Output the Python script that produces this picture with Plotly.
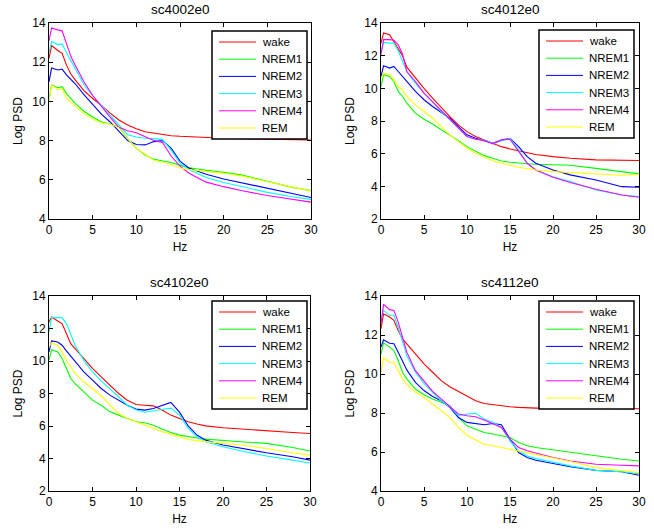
import plotly.graph_objects as go

# frequency grid (Hz) shared by all four recordings
hz = [0, 0.3, 1, 1.5, 2, 2.5, 3, 4, 5, 6, 7, 8, 9, 10, 11, 12, 13, 14, 15, 16, 17, 18, 20, 22, 25, 28, 30]

stages = ["wake", "NREM1", "NREM2", "NREM3", "NREM4", "REM"]
colors = ["#ff0000", "#00ff00", "#0000ff", "#00ffff", "#ff00ff", "#ffff00"]

# sc4002e0
sc4002_wake = [12.2, 12.85, 12.6, 12.45, 11.85, 11.4, 11.1, 10.55, 10.15, 9.8, 9.4, 9.05, 8.8, 8.6, 8.45, 8.38, 8.3, 8.25, 8.22, 8.2, 8.16, 8.13, 8.12, 8.1, 8.07, 8.05, 8.03]
sc4002_nrem1 = [10.1, 10.85, 10.7, 10.75, 10.4, 10.15, 9.9, 9.5, 9.2, 8.95, 8.85, 8.7, 8.1, 7.6, 7.27, 7.05, 6.98, 6.88, 6.75, 6.62, 6.55, 6.48, 6.38, 6.25, 5.92, 5.6, 5.45]
sc4002_nrem2 = [11.0, 11.7, 11.6, 11.65, 11.35, 11.15, 10.9, 10.35, 9.85, 9.35, 8.95, 8.5, 8.0, 7.8, 7.78, 7.95, 8.0, 7.6, 6.95, 6.6, 6.42, 6.28, 6.04, 5.85, 5.57, 5.28, 5.1]
sc4002_nrem3 = [12.5, 13.05, 12.9, 12.93, 12.5, 12.1, 11.7, 10.85, 10.3, 9.8, 9.3, 8.8, 8.3, 8.18, 8.12, 8.1, 8.05, 7.5, 6.85, 6.52, 6.3, 6.12, 5.86, 5.65, 5.36, 5.12, 5.0]
sc4002_nrem4 = [13.1, 13.75, 13.65, 13.6, 12.95, 12.3, 11.85, 11.0, 10.3, 9.73, 9.2, 8.68, 8.5, 8.4, 8.2, 8.0, 7.9, 7.2, 6.7, 6.35, 6.1, 5.88, 5.65, 5.45, 5.2, 4.98, 4.86]
sc4002_rem = [10.0, 10.85, 10.6, 10.65, 10.15, 9.95, 9.73, 9.38, 9.1, 8.9, 8.85, 8.65, 8.1, 7.6, 7.3, 7.0, 6.9, 6.78, 6.6, 6.52, 6.48, 6.44, 6.33, 6.2, 5.9, 5.6, 5.42]

# sc4012e0
sc4012_wake = [12.77, 13.39, 13.28, 12.88, 12.45, 12.0, 11.3, 10.63, 10.0, 9.4, 8.83, 8.27, 7.76, 7.35, 7.05, 6.84, 6.64, 6.43, 6.29, 6.19, 6.09, 5.95, 5.82, 5.72, 5.62, 5.58, 5.58]
sc4012_nrem1 = [10.11, 10.83, 10.73, 10.42, 9.81, 9.5, 9.09, 8.48, 8.11, 7.82, 7.46, 7.15, 6.8, 6.43, 6.13, 5.88, 5.72, 5.55, 5.47, 5.41, 5.38, 5.35, 5.33, 5.29, 5.1, 4.9, 4.76]
sc4012_nrem2 = [10.73, 11.38, 11.24, 11.34, 11.03, 10.75, 10.42, 9.81, 9.3, 8.89, 8.52, 8.17, 7.66, 7.15, 6.94, 6.8, 6.64, 6.84, 6.94, 6.43, 5.82, 5.41, 5.0, 4.7, 4.39, 3.98, 3.94]
sc4012_nrem3 = [12.16, 12.81, 12.77, 12.77, 12.3, 11.7, 11.03, 10.32, 9.71, 9.19, 8.58, 8.07, 7.56, 7.05, 6.88, 6.84, 6.64, 6.8, 6.94, 6.23, 5.41, 5.0, 4.59, 4.29, 3.78, 3.47, 3.37]
sc4012_nrem4 = [12.06, 12.98, 12.98, 12.94, 12.67, 12.1, 11.03, 10.42, 9.71, 9.19, 8.68, 8.11, 7.56, 7.05, 6.88, 6.8, 6.6, 6.84, 6.88, 6.13, 5.41, 5.0, 4.55, 4.23, 3.82, 3.47, 3.33]
sc4012_rem = [10.52, 10.93, 10.83, 10.52, 10.11, 9.9, 9.5, 8.99, 8.58, 8.17, 7.66, 7.15, 6.74, 6.33, 6.02, 5.78, 5.57, 5.41, 5.27, 5.17, 5.08, 5.0, 4.9, 4.84, 4.76, 4.68, 4.72]

# sc4102e0 (no NREM4 epochs)
sc4102_wake = [12.4, 12.71, 12.46, 12.3, 11.69, 11.07, 10.76, 10.15, 9.54, 9.02, 8.51, 8.0, 7.59, 7.32, 7.28, 7.24, 6.98, 6.67, 6.46, 6.26, 6.12, 6.01, 5.89, 5.81, 5.71, 5.6, 5.54]
sc4102_nrem1 = [10.05, 10.7, 10.56, 10.15, 9.54, 8.92, 8.61, 8.1, 7.59, 7.28, 6.87, 6.67, 6.46, 6.26, 6.2, 6.05, 5.81, 5.6, 5.44, 5.34, 5.26, 5.19, 5.13, 5.03, 4.93, 4.68, 4.46]
sc4102_nrem2 = [10.56, 11.24, 11.17, 10.97, 10.62, 10.3, 9.95, 9.33, 8.82, 8.31, 7.9, 7.59, 7.28, 7.04, 6.98, 7.08, 7.28, 7.45, 6.85, 6.0, 5.44, 5.13, 4.83, 4.62, 4.35, 4.11, 3.9]
sc4102_nrem3 = [11.79, 12.67, 12.67, 12.67, 12.3, 11.58, 10.97, 10.05, 9.33, 8.78, 8.31, 7.8, 7.28, 7.0, 6.85, 6.95, 7.02, 7.1, 6.67, 5.85, 5.34, 5.03, 4.72, 4.48, 4.15, 3.9, 3.72]
sc4102_nrem4 = []
sc4102_rem = [10.87, 11.13, 10.97, 10.56, 10.05, 9.6, 9.23, 8.72, 8.31, 7.86, 7.28, 6.77, 6.46, 6.26, 6.05, 5.85, 5.64, 5.5, 5.34, 5.17, 5.1, 5.03, 4.93, 4.83, 4.62, 4.35, 4.21]

# sc4112e0
sc4112_wake = [12.32, 13.09, 12.92, 12.75, 12.23, 11.8, 11.55, 11.03, 10.52, 10.09, 9.66, 9.35, 9.11, 8.84, 8.63, 8.49, 8.43, 8.37, 8.32, 8.29, 8.27, 8.25, 8.25, 8.24, 8.24, 8.23, 8.22]
sc4112_nrem1 = [11.03, 11.6, 11.38, 11.2, 10.69, 10.09, 9.75, 9.23, 8.94, 8.72, 8.55, 8.37, 7.77, 7.34, 7.17, 7.0, 6.92, 6.83, 6.74, 6.49, 6.32, 6.23, 6.11, 5.97, 5.8, 5.63, 5.54]
sc4112_nrem2 = [11.38, 11.75, 11.58, 11.55, 11.12, 10.69, 10.21, 9.57, 9.15, 8.85, 8.63, 8.29, 7.77, 7.52, 7.46, 7.4, 7.46, 7.4, 6.66, 5.97, 5.72, 5.58, 5.41, 5.25, 5.06, 4.99, 4.81]
sc4112_nrem3 = [12.83, 13.26, 13.01, 13.01, 12.4, 11.63, 10.95, 10.09, 9.52, 9.06, 8.63, 8.32, 7.86, 7.95, 7.98, 7.69, 7.52, 7.26, 6.57, 6.06, 5.8, 5.66, 5.46, 5.29, 5.06, 4.99, 4.89]
sc4112_nrem4 = [12.58, 13.57, 13.3, 13.26, 12.66, 11.89, 11.12, 10.17, 9.63, 9.11, 8.72, 8.32, 7.95, 7.86, 7.81, 7.64, 7.43, 7.26, 6.66, 6.23, 6.06, 5.94, 5.72, 5.54, 5.37, 5.32, 5.29]
sc4112_rem = [10.09, 10.83, 10.6, 10.6, 10.17, 9.75, 9.45, 9.06, 8.8, 8.46, 8.11, 7.77, 7.26, 6.86, 6.61, 6.4, 6.32, 6.23, 6.14, 6.06, 5.98, 5.89, 5.72, 5.51, 5.2, 5.03, 4.94]

W, H = 654, 529
FONT = "Liberation Sans, Arial, Helvetica, sans-serif"

panels = [
    # name, series, y range, x px span, y px span, legend box px (left, top)
    ("sc4002e0", [sc4002_wake, sc4002_nrem1, sc4002_nrem2, sc4002_nrem3, sc4002_nrem4, sc4002_rem], [4, 14], (49, 311), (23, 219), (212, 31)),
    ("sc4012e0", [sc4012_wake, sc4012_nrem1, sc4012_nrem2, sc4012_nrem3, sc4012_nrem4, sc4012_rem], [2, 14], (381, 639), (23, 219), (539, 30)),
    ("sc4102e0", [sc4102_wake, sc4102_nrem1, sc4102_nrem2, sc4102_nrem3, sc4102_nrem4, sc4102_rem], [2, 14], (49, 310), (296, 491), (212, 301)),
    ("sc4112e0", [sc4112_wake, sc4112_nrem1, sc4112_nrem2, sc4112_nrem3, sc4112_nrem4, sc4112_rem], [4, 14], (381, 639), (296, 491), (539, 301)),
]

# matlab-style legend box geometry (px)
LEG_W, LEG_H = 95, 108
ROW0, ROW_STEP = 11, 17.2


def px(x):
    return x / W


def py(y):
    return 1 - y / H


fig = go.Figure()
shapes = []
annotations = []
layout = dict(
    width=W, height=H,
    margin=dict(l=0, r=0, t=0, b=0),
    paper_bgcolor="white", plot_bgcolor="white",
    font=dict(family=FONT, size=12, color="black"),
    showlegend=False,
)

for i, (name, series, yr, xs, ys, lg) in enumerate(panels):
    n = "" if i == 0 else str(i + 1)
    for stage, col, vals in zip(stages, colors, series):
        fig.add_trace(go.Scatter(
            x=hz[:len(vals)], y=vals, mode="lines", name=stage,
            line=dict(color=col, width=1.1),
            xaxis="x" + n, yaxis="y" + n,
        ))
    axis_common = dict(
        showline=True, linecolor="black", linewidth=1, mirror="ticks",
        ticks="inside", ticklen=4, tickcolor="black",
        showgrid=False, zeroline=False, automargin=False,
        tickfont=dict(size=12, color="black"),
    )
    layout["xaxis" + n] = dict(
        axis_common, domain=[px(xs[0]), px(xs[1])], range=[0, 30], dtick=5,
        anchor="y" + n, title=dict(text="Hz", font=dict(size=12), standoff=6),
    )
    layout["yaxis" + n] = dict(
        axis_common, domain=[py(ys[1]), py(ys[0])], range=yr, dtick=2,
        anchor="x" + n, title=dict(text="Log PSD", font=dict(size=12), standoff=7),
    )
    annotations.append(dict(
        text=name, x=px((xs[0] + xs[1]) / 2), y=py(ys[0] - 14),
        xref="paper", yref="paper", xanchor="center", yanchor="middle",
        showarrow=False, font=dict(size=13.5, color="black"),
    ))
    # legend box drawn like the matlab one
    lx, ly = lg
    shapes.append(dict(
        type="rect", xref="paper", yref="paper",
        x0=px(lx), x1=px(lx + LEG_W), y0=py(ly), y1=py(ly + LEG_H),
        line=dict(color="black", width=1.5), fillcolor="white", layer="above",
    ))
    for k, (stage, col) in enumerate(zip(stages, colors)):
        ry = ly + ROW0 + k * ROW_STEP
        shapes.append(dict(
            type="line", xref="paper", yref="paper",
            x0=px(lx + 7), x1=px(lx + 44), y0=py(ry), y1=py(ry),
            line=dict(color=col, width=1), layer="above",
        ))
        annotations.append(dict(
            text=stage, x=px(lx + 48), y=py(ry), xref="paper", yref="paper",
            xanchor="left", yanchor="middle", showarrow=False,
            font=dict(size=11.5, color="black"),
        ))

layout["shapes"] = shapes
layout["annotations"] = annotations
fig.update_layout(**layout)
# page body has a default 8px margin; drop it so the figure sits at the origin
fig.write_html(
    "out.html",
    config={"displayModeBar": False},
    post_script="document.body.style.margin='0px';",
)
